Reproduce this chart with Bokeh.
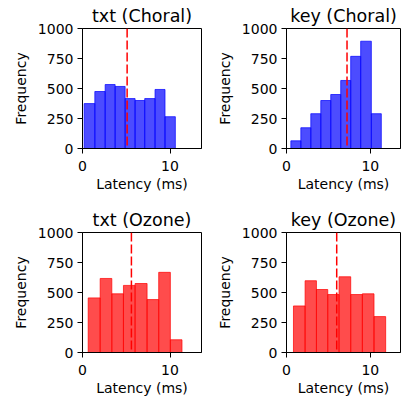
from bokeh.plotting import figure
from bokeh.layouts import gridplot
from bokeh.models import Range1d, FixedTicker, Span, ColumnDataSource
from bokeh.embed import file_html
from bokeh.resources import INLINE

# ---- data (histogram bin edges in ms, counts, mean) ----
txt_choral_edges = [0.19, 1.41, 2.59, 3.73, 4.87, 6.01, 7.11, 8.29, 9.43, 10.61]
txt_choral_counts = [374, 475, 533, 517, 416, 400, 416, 492, 265]
txt_choral_mean = 5.1

key_choral_edges = [0.52, 1.71, 2.90, 4.09, 5.28, 6.47, 7.66, 8.85, 10.12, 11.31]
key_choral_counts = [64, 173, 290, 400, 450, 567, 768, 894, 290]
key_choral_mean = 7.22

txt_ozone_edges = [0.65, 2.02, 3.35, 4.68, 6.01, 7.38, 8.71, 10.04, 11.37]
txt_ozone_counts = [455, 617, 489, 559, 575, 441, 668, 106]
txt_ozone_mean = 5.59

key_ozone_edges = [0.83, 2.22, 3.57, 4.92, 6.27, 7.66, 9.05, 10.44, 11.83]
key_ozone_counts = [388, 598, 525, 483, 631, 483, 489, 299]
key_ozone_mean = 5.99

titles = ["txt (Choral)", "key (Choral)", "txt (Ozone)", "key (Ozone)"]
x_ticks = [0, 10]
y_ticks = [0, 250, 500, 750, 1000]
x_label = "Latency (ms)"
y_label = "Frequency"

FONT = "DejaVu Sans"


def make(title, edges, counts, mean, color, ml, mr, mt, mb, fw, fh):
    p = figure(frame_width=fw, frame_height=fh,
               x_range=Range1d(0, 13.6), y_range=Range1d(0, 1000),
               output_backend="svg", toolbar_location=None,
               min_border_left=ml, min_border_right=mr,
               min_border_top=mt, min_border_bottom=mb,
               title=title)
    src = ColumnDataSource(dict(left=edges[:-1], right=edges[1:],
                                top=counts, bottom=[0] * len(counts)))
    p.quad(left="left", right="right", top="top", bottom="bottom", source=src,
           fill_color=color, fill_alpha=0.7, line_color=color, line_alpha=0.7,
           line_width=1)
    p.add_layout(Span(location=mean, dimension="height", line_color="red",
                      line_dash="9 3", line_width=1.5))
    p.title.text_font = FONT
    p.title.text_font_size = "17.5px"
    p.title.text_font_style = "normal"
    p.title.align = "center"
    p.title.standoff = 6
    p.title.text_color = "black"
    p.grid.visible = False
    p.outline_line_color = "black"
    p.outline_line_alpha = 1
    p.outline_line_width = 1
    p.xaxis.ticker = FixedTicker(ticks=x_ticks)
    p.yaxis.ticker = FixedTicker(ticks=y_ticks)
    for ax in (p.xaxis[0], p.yaxis[0]):
        ax.major_label_text_font = FONT
        ax.major_label_text_font_size = "14px"
        ax.major_label_text_color = "black"
        ax.axis_label_text_font = FONT
        ax.axis_label_text_font_size = "14px"
        ax.axis_label_text_font_style = "normal"
        ax.axis_label_text_color = "black"
        ax.axis_line_color = "black"
        ax.major_tick_line_color = "black"
        ax.major_tick_out = 5
        ax.major_tick_in = 0
        ax.minor_tick_line_color = None
    p.yaxis.major_label_standoff = 4
    p.yaxis.axis_label_standoff = 6
    p.xaxis.major_label_standoff = 7
    p.xaxis.axis_label_standoff = 2
    p.xaxis.axis_label = x_label
    p.yaxis.axis_label = y_label
    p.background_fill_color = "white"
    p.border_fill_color = "white"
    return p


p1 = make(titles[0], txt_choral_edges, txt_choral_counts, txt_choral_mean, "blue",
          82, 8, 28, 56, 119, 120)
p2 = make(titles[1], key_choral_edges, key_choral_counts, key_choral_mean, "blue",
          77, 1, 28, 56, 114, 120)
p3 = make(titles[2], txt_ozone_edges, txt_ozone_counts, txt_ozone_mean, "red",
          82, 8, 28, 48, 119, 120)
p4 = make(titles[3], key_ozone_edges, key_ozone_counts, key_ozone_mean, "red",
          77, 1, 28, 48, 114, 120)

grid = gridplot([[p1, p2], [p3, p4]], toolbar_location=None)

open("out.html", "w").write(file_html(grid, INLINE))
